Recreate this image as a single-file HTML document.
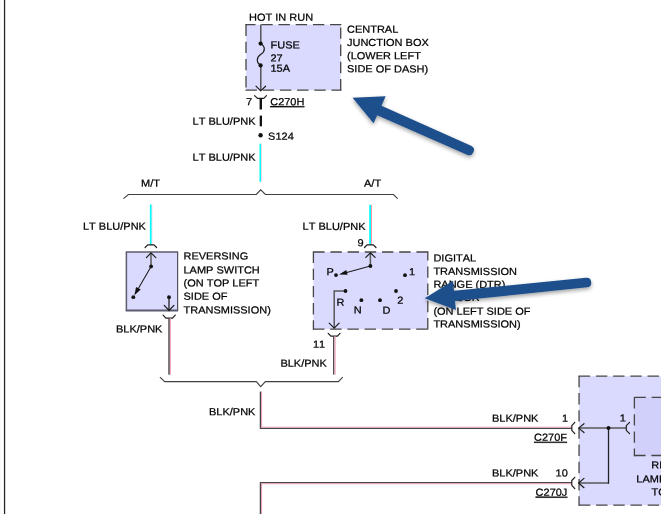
<!DOCTYPE html>
<html>
<head>
<meta charset="utf-8">
<title>Reversing lamp wiring diagram</title>
<style>
html,body{margin:0;padding:0;background:#fff;}
body{width:661px;height:514px;overflow:hidden;position:relative;}
svg{position:absolute;left:0;top:0;display:block;opacity:0.999;}
text{font-family:"Liberation Sans",sans-serif;font-size:11px;fill:#000;stroke:#000;stroke-width:0.25;font-kerning:none;}
.ln{stroke:#585858;stroke-width:1.5;fill:none;}
.dg{stroke:#1c1c1c;stroke-width:1.2;fill:none;stroke-linecap:round;stroke-linejoin:round;}
.br{stroke:#404040;stroke-width:1.1;fill:none;}
.db{stroke:#464646;stroke-width:1.3;fill:none;stroke-dasharray:11.4 5.8;}
.dot{fill:#111;}
</style>
</head>
<body>
<svg width="661" height="514" viewBox="0 0 661 514">
<defs>
<filter id="sh" x="-20%" y="-30%" width="140%" height="170%">
<feGaussianBlur in="SourceAlpha" stdDeviation="2"/>
<feOffset dx="0.3" dy="2" result="o"/>
<feComponentTransfer><feFuncA type="linear" slope="0.38"/></feComponentTransfer>
<feMerge><feMergeNode/><feMergeNode in="SourceGraphic"/></feMerge>
</filter>
</defs>
<rect width="661" height="514" fill="#fff"/>
<rect x="0" y="0" width="1" height="514" fill="#f6f6f6"/>
<rect x="3.9" y="0" width="1.3" height="514" fill="#262626"/>
<text transform="matrix(1 0.001 0 0.93 249 20.65)">HOT IN RUN</text>
<rect x="246" y="24.65" width="94.69999999999999" height="65.55000000000001" fill="#dadafe"/>
<path class="db" d="M245.35 24.65H341.34999999999997" stroke-dashoffset="1.25"/>
<path class="db" d="M246 24.0V90.85000000000001" stroke-dashoffset="16.7"/>
<path class="db" d="M340.7 24.0V90.85000000000001" stroke-dashoffset="13.8"/>
<path class="db" d="M245.35 90.2H341.34999999999997" stroke-dashoffset="17.05"/>
<path class="ln" d="M260.8 24.5V43.6M260.8 65.4V90.4" style="stroke-width:1.4;stroke:#4a4a4a"/>
<path class="dg" d="M256 86.2L260.7 90.9L265.6 86.2"/>
<path class="dg" d="M260.6 43.6C265.6 46.5 265.4 51.5 260.9 54.3C256.3 57.2 256 62.5 260.6 65.4"/>
<circle class="dot" cx="260.6" cy="43.6" r="2.1"/>
<circle class="dot" cx="260.6" cy="65.4" r="2.1"/>
<text transform="matrix(1 0.001 0 0.93 270.5 48.45)">FUSE</text>
<text transform="matrix(1 0.001 0 0.93 270.5 61.55)">27</text>
<text transform="matrix(1 0.001 0 0.93 270.5 71.85)">15A</text>
<text transform="matrix(1 0.001 0 0.93 347 32.75)">CENTRAL</text>
<text transform="matrix(1 0.001 0 0.93 347 45.95)">JUNCTION BOX</text>
<text transform="matrix(1 0.001 0 0.93 347 59.25)">(LOWER LEFT</text>
<text transform="matrix(1 0.001 0 0.93 347 72.35)">SIDE OF DASH)</text>
<path class="dg" d="M254.6 95.6L257.5 98.4H263.8L266.5 95.6"/>
<rect fill="#111" x="259.6" y="98.2" width="2.4" height="11.3"/>
<rect fill="#111" x="259.7" y="115.6" width="2.3" height="10.7"/>
<text transform="matrix(1 0.001 0 0.93 246 105.25)">7</text>
<text transform="matrix(1 0.001 0 0.93 270.2 105.15)" text-decoration="underline">C270H</text>
<text transform="matrix(1 0.001 0 0.93 192.6 124.75)">LT BLU/PNK</text>
<circle class="dot" cx="260.6" cy="135.3" r="2.2"/>
<text transform="matrix(1 0.001 0 0.93 268.1 139.85)">S124</text>
<text transform="matrix(1 0.001 0 0.93 192.6 160.65)">LT BLU/PNK</text>
<rect x="259.5" y="143.7" width="1.7" height="38.10000000000002" fill="#00ffff"/><rect x="261.2" y="143.7" width="0.8" height="38.10000000000002" fill="#ffc8dc"/>
<path class="br" d="M123.4 198.7L128.4 194.5H256.3L260.7 189.8L265.4 194.5H393.4L397.7 198.7"/>
<text transform="matrix(1 0.001 0 0.93 141 186.65)">M/T</text>
<text transform="matrix(1 0.001 0 0.93 364 186.65)">A/T</text>
<rect x="149.9" y="204.5" width="1.85" height="40.5" fill="#00ffff"/><rect x="151.75" y="204.5" width="0.55" height="40.5" fill="#ffbcd4"/>
<text transform="matrix(1 0.001 0 0.93 83 229.65)">LT BLU/PNK</text>
<path class="dg" d="M145.1 247.5L147.7 244.8H154L156.6 247.5"/>
<rect x="126.4" y="252" width="51.2" height="58.6" fill="#dadafe"/><path d="M125.7 252H178.1" stroke="#5c5c6c" stroke-width="1.7"/><path d="M125.7 310.6H178.1" stroke="#5c5c70" stroke-width="2"/><path d="M126.4 252V310.6" stroke="#5c5c6c" stroke-width="1.5"/><path d="M177.6 252V310.6" stroke="#50505c" stroke-width="1.2"/>
<path class="ln" d="M151 252.8V266"/><path class="dg" d="M146.4 257.6L151 252.9L155.8 257.6"/>
<path class="dg" d="M151.1 266.4L137.5 290" style="stroke-width:1.05"/>
<path class="dot" d="M134.4 295.2L136.06 286.92L140.74 289.62Z"/>
<path class="ln" d="M169 297V310.4" style="stroke:#222;stroke-width:1.3"/><path class="dg" d="M164.2 305.4L169.1 310.5L173.9 305.4"/>
<path class="dg" d="M163.1 315.2L165.9 318.2H172.5L175.3 315.2"/>
<circle class="dot" cx="151.1" cy="266.4" r="1.9"/>
<circle class="dot" cx="133.3" cy="297.2" r="1.9"/>
<circle class="dot" cx="169" cy="297.2" r="1.9"/>
<text transform="matrix(1 0.001 0 0.93 183.5 259.55)">REVERSING</text>
<text transform="matrix(1 0.001 0 0.93 183.5 273.45)">LAMP SWITCH</text>
<text transform="matrix(1 0.001 0 0.93 183.5 286.55)">(ON TOP LEFT</text>
<text transform="matrix(1 0.001 0 0.93 183.5 299.75)">SIDE OF</text>
<text transform="matrix(1 0.001 0 0.93 183.5 313.45)">TRANSMISSION)</text>
<text transform="matrix(1 0.001 0 0.93 116 332.55)">BLK/PNK</text>
<rect x="168.3" y="318.3" width="1.5" height="56.3" fill="#444"/><rect x="169.8" y="318.3" width="1.2" height="56.3" fill="#f4a8c0"/>
<rect x="369.2" y="204.8" width="1.8" height="40.0" fill="#00ffff"/><rect x="371" y="204.8" width="1" height="40.0" fill="#ff94ac"/>
<text transform="matrix(1 0.001 0 0.93 302.6 229.85)">LT BLU/PNK</text>
<text transform="matrix(1 0.001 0 0.93 357.5 246.15)">9</text>
<path class="dg" d="M364.5 247.5L367.1 244.8H373.4L376 247.5"/>
<rect x="313.4" y="252.0" width="114.40000000000003" height="77.10000000000002" fill="#dadafe"/>
<path class="db" d="M312.75 252.0H428.45" stroke-dashoffset="16.75"/>
<path class="db" d="M313.4 251.35V329.75" stroke-dashoffset="17.05"/>
<path class="db" d="M427.8 251.35V329.75" stroke-dashoffset="2.15"/>
<path class="db" d="M312.75 329.1H428.45" stroke-dashoffset="16.95"/>
<path class="ln" d="M370.4 252.8V265.6"/><path class="dg" d="M365.8 257.4L370.4 252.8L375.1 257.4"/>
<path class="dg" d="M370.4 266L344 273.2" style="stroke-width:1.05"/>
<path class="dot" d="M339 274.5L346.3 270.1L347.6 274.8Z"/>
<path class="ln" d="M345.6 291.1H334.2V328.2"/><path class="dg" d="M329.2 323.2L334.2 328.2L339.1 323.2"/>
<circle class="dot" cx="370.4" cy="266" r="1.9"/>
<circle class="dot" cx="336" cy="275.1" r="1.9"/>
<circle class="dot" cx="405" cy="275.2" r="1.9"/>
<circle class="dot" cx="345.5" cy="291" r="1.9"/>
<circle class="dot" cx="396" cy="291" r="1.9"/>
<circle class="dot" cx="361.4" cy="300.2" r="1.9"/>
<circle class="dot" cx="380" cy="300.2" r="1.9"/>
<text transform="matrix(1 0.001 0 0.93 326.4 275.25)">P</text>
<text transform="matrix(1 0.001 0 0.93 409 275.25)">1</text>
<text transform="matrix(1 0.001 0 0.93 336.4 305.65)">R</text>
<text transform="matrix(1 0.001 0 0.93 353.8 313.45)">N</text>
<text transform="matrix(1 0.001 0 0.93 382.4 313.85)">D</text>
<text transform="matrix(1 0.001 0 0.93 397.3 303.85)">2</text>
<text transform="matrix(1 0.001 0 0.93 433.4 261.55)">DIGITAL</text>
<text transform="matrix(1 0.001 0 0.93 433.4 274.85)">TRANSMISSION</text>
<text transform="matrix(1 0.001 0 0.93 433.4 287.85)">RANGE (DTR)</text>
<text transform="matrix(1 0.001 0 0.93 433.4 301.05)">SENSOR</text>
<text transform="matrix(1 0.001 0 0.93 433.4 314.65)">(ON LEFT SIDE OF</text>
<text transform="matrix(1 0.001 0 0.93 433.4 327.55)">TRANSMISSION)</text>
<text transform="matrix(1 0.001 0 0.93 313 347.75)">11</text>
<path class="dg" d="M328.2 333.3L330.9 336.2H337.4L340 333.3"/>
<text transform="matrix(1 0.001 0 0.93 280.4 366.65)">BLK/PNK</text>
<rect x="333.05" y="336.3" width="1.35" height="38.3" fill="#444"/><rect x="334.4" y="336.3" width="1.3" height="38.3" fill="#f0a8bc"/>
<path class="br" d="M159.9 377.2L164.7 381.6H256.3L260.7 386.6L265.4 381.6H338.4L342.8 377.2"/>
<path d="M259.75 391.5V429H571.8V427.8H261.05V391.5Z" fill="#484848"/>
<path d="M261.05 391.5V427.8H571.8V426.85H262.1V391.5Z" fill="#e89cb4"/>
<path d="M259.75 514V482H571.8V483.2H261.05V514Z" fill="#484848"/>
<path d="M261.05 514V483.2H571.8V484.2H262.1V514Z" fill="#e89cb4"/>
<text transform="matrix(1 0.001 0 0.93 209 415.25)">BLK/PNK</text>
<text transform="matrix(1 0.001 0 0.93 492 421.65)">BLK/PNK</text>
<text transform="matrix(1 0.001 0 0.93 562 421.65)">1</text>
<text transform="matrix(1 0.001 0 0.93 534 440.85)" text-decoration="underline">C270F</text>
<text transform="matrix(1 0.001 0 0.93 492 476.55)">BLK/PNK</text>
<text transform="matrix(1 0.001 0 0.93 555.6 476.55)">10</text>
<text transform="matrix(1 0.001 0 0.93 535.6 495.65)" text-decoration="underline">C270J</text>
<rect x="579.05" y="376.2" width="120.95000000000005" height="129.0" fill="#dadafe"/>
<path class="db" d="M578.4 376.2H700.65" stroke-dashoffset="16.9"/>
<path class="db" d="M579.05 375.55V505.84999999999997" stroke-dashoffset="16.95"/>
<path class="db" d="M578.4 505.2H700.65" stroke-dashoffset="16.7"/>
<rect x="634.4" y="397.4" width="65.60000000000002" height="58.10000000000002" fill="#d0d0fb"/>
<path class="db" d="M633.75 397.4H700.65" stroke-dashoffset="16.55"/>
<path class="db" d="M634.4 396.75V456.15" stroke-dashoffset="16.95"/>
<path class="db" d="M633.75 455.5H700.65" stroke-dashoffset="16.75"/>
<path class="dg" d="M574.8 422.4L571.8 425.6V430.4L574.8 433.6M574.8 477.3L571.8 480.5V485.3L574.8 488.6"/>
<path class="ln" d="M579 428.1H626.2M609 483H579"/>
<path class="ln" d="M608.5 428.1V483.7" style="stroke:#222;stroke-width:1.3"/>
<path class="dg" d="M584 423.7L578.6 428.1L584 432.5M584 478.4L578.6 483L584 487.7"/>
<path class="dg" d="M629.6 422.4L626.3 425.6V430.4L629.6 433.6"/>
<circle class="dot" cx="608.5" cy="428.1" r="2.0"/>
<text transform="matrix(1 0.001 0 0.93 619.8 421.45)">1</text>
<text transform="matrix(1 0.001 0 0.93 651.2 468.55)">REVERSING</text>
<text transform="matrix(1 0.001 0 0.93 636.3 482.45)">LAMPS RELAY</text>
<text transform="matrix(1 0.001 0 0.93 651.6 495.55)">TOW</text>
<g filter="url(#sh)" fill="#1f4f8b">
<path d="M352.50 97.70L385.65 96.32L381.49 105.63L471.04 145.69Q475.42 147.65 473.46 152.03L473.34 152.30Q471.38 156.68 467.00 154.72L377.20 115.21L373.57 123.34Z"/>
<path d="M424.80 298.30L453.04 280.87L454.01 290.82L586.06 277.67Q590.74 277.22 591.19 281.89L591.21 282.09Q591.67 286.77 586.99 287.23L455.01 301.08L455.88 309.93Z"/>
</g>
</svg>
</body>
</html>
